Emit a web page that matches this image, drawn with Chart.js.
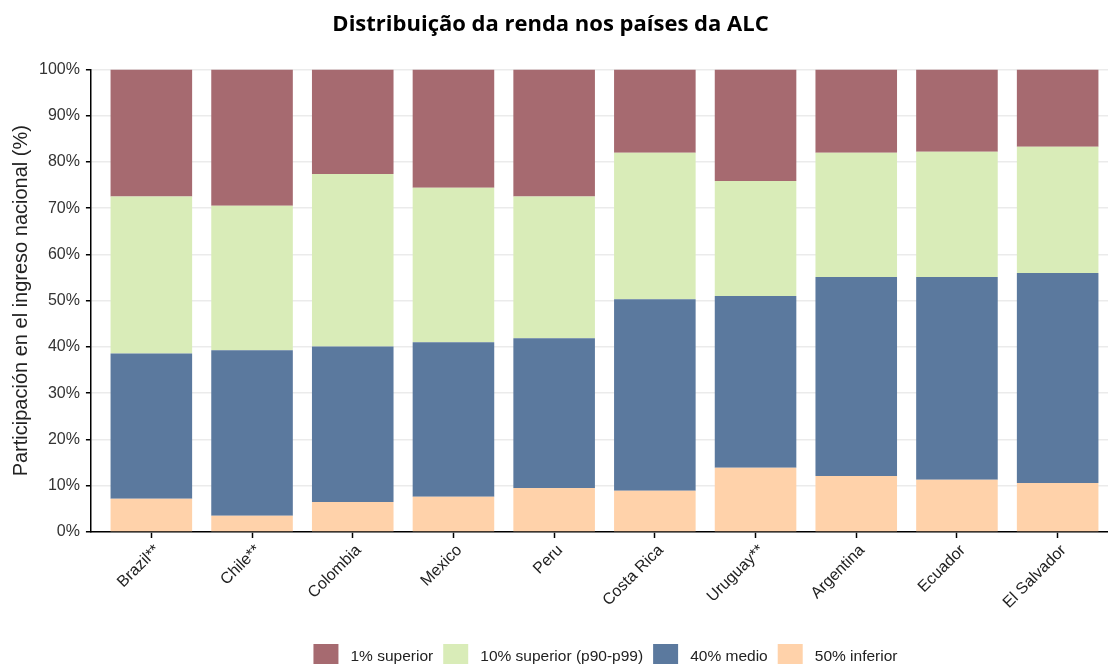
<!DOCTYPE html>
<html>
<head>
<meta charset="utf-8">
<script src="https://cdn.jsdelivr.net/npm/chart.js@4.4.1/dist/chart.umd.min.js"></script>
<style>
  html, body { margin: 0; padding: 0; background: #fff; overflow: hidden; }
  #wrap { width: 1108px; height: 664px; overflow: hidden; }
</style>
</head>
<body>
<div id="wrap"><canvas id="renda" width="1108" height="679"></canvas></div>
<script>
const paises = ["Brazil**", "Chile**", "Colombia", "Mexico", "Peru", "Costa Rica", "Uruguay**", "Argentina", "Ecuador", "El Salvador"];

// participação (%) de cada grupo, de baixo para cima
const inferior50 = [7.2, 3.5, 6.5, 7.6, 9.5, 8.9, 13.9, 12.1, 11.3, 10.6];
const medio40 = [31.4, 35.8, 33.6, 33.4, 32.4, 41.4, 37.1, 43.0, 43.8, 45.4];
const superior10 = [33.9, 31.2, 37.3, 33.4, 30.6, 31.7, 24.9, 26.9, 27.1, 27.3];
const superior1 = [27.5, 29.5, 22.6, 25.6, 27.5, 18.0, 24.1, 18.0, 17.8, 16.7];

const yTicks = [0, 10, 20, 30, 40, 50, 60, 70, 80, 90, 100];

const toPoints = (arr) => arr.map((v, i) => ({ x: i, y: v }));

const sans = "'Liberation Sans', Arial, sans-serif";

const data = {
    datasets: [
        { label: "50% inferior", data: toPoints(inferior50), backgroundColor: "#FFD2AA" },
        { label: "40% medio", data: toPoints(medio40), backgroundColor: "#5B799E" },
        { label: "10% superior (p90-p99)", data: toPoints(superior10), backgroundColor: "#D9ECB8" },
        { label: "1% superior", data: toPoints(superior1), backgroundColor: "#A66A70" }
    ]
};

// título um pouco à esquerda, legenda um pouco à direita (como no original)
const nudgeBoxes = {
    id: "nudgeBoxes",
    afterLayout(chart) {
        chart.titleBlock.left -= 8;
        chart.titleBlock.right -= 8;
        chart.legend.left += 6;
        chart.legend.right += 6;
    }
};

const config = {
    type: "bar",
    data: data,
    plugins: [nudgeBoxes],
    options: {
        responsive: false,
        animation: false,
        layout: { padding: { top: 4, right: 0, left: 9, bottom: 0 } },
        datasets: { bar: { barPercentage: 0.81, categoryPercentage: 1, borderWidth: 0 } },
        plugins: {
            title: {
                display: true,
                text: "Distribuição da renda nos países da ALC",
                color: "#000",
                font: { family: "'Open Sans', sans-serif", size: 22, weight: "bold" },
                padding: { top: 8, bottom: 31 }
            },
            legend: {
                position: "bottom",
                fullSize: false,
                reverse: true,
                labels: {
                    boxWidth: 25,
                    boxHeight: 25,
                    padding: 10,
                    color: "#222",
                    font: { family: sans, size: 15.5 },
                    generateLabels: (chart) => {
                        const items = Chart.defaults.plugins.legend.labels.generateLabels(chart);
                        items.forEach((it) => { it.text = " " + it.text; });
                        return items;
                    }
                }
            },
            tooltip: { enabled: false }
        },
        scales: {
            x: {
                type: "linear",
                min: -0.6,
                max: 9.5,
                offset: false,
                stacked: true,
                afterBuildTicks: (scale) => {
                    scale.ticks = paises.map((p, i) => ({ value: i }));
                },
                afterFit: (scale) => { scale.height = 102; },
                ticks: {
                    callback: (v) => paises[v],
                    autoSkip: false,
                    maxRotation: 45,
                    minRotation: 45,
                    labelOffset: 6,
                    color: "#222",
                    font: { family: sans, size: 16 }
                },
                grid: { offset: false, drawOnChartArea: false, drawTicks: true, tickLength: 6, tickColor: "#000", tickWidth: 1.5 },
                border: { color: "#000", width: 1.5 }
            },
            y: {
                stacked: true,
                min: 0,
                max: 100,
                afterBuildTicks: (scale) => {
                    scale.ticks = yTicks.map((v) => ({ value: v }));
                },
                ticks: {
                    callback: (v) => v + "%",
                    color: "#333",
                    padding: 6,
                    font: { family: sans, size: 16 }
                },
                grid: { color: "#EBEBEB", lineWidth: 1.5, tickLength: 5, tickColor: "#000", tickWidth: 1.5 },
                border: { color: "#000", width: 1.5 },
                title: {
                    display: true,
                    text: "Participación en el ingreso nacional (%)",
                    color: "#222",
                    font: { family: sans, size: 20 },
                    padding: { top: 0, bottom: 0 }
                }
            }
        }
    }
};

const rendaChart = new Chart(document.getElementById("renda"), config);
</script>
</body>
</html>
